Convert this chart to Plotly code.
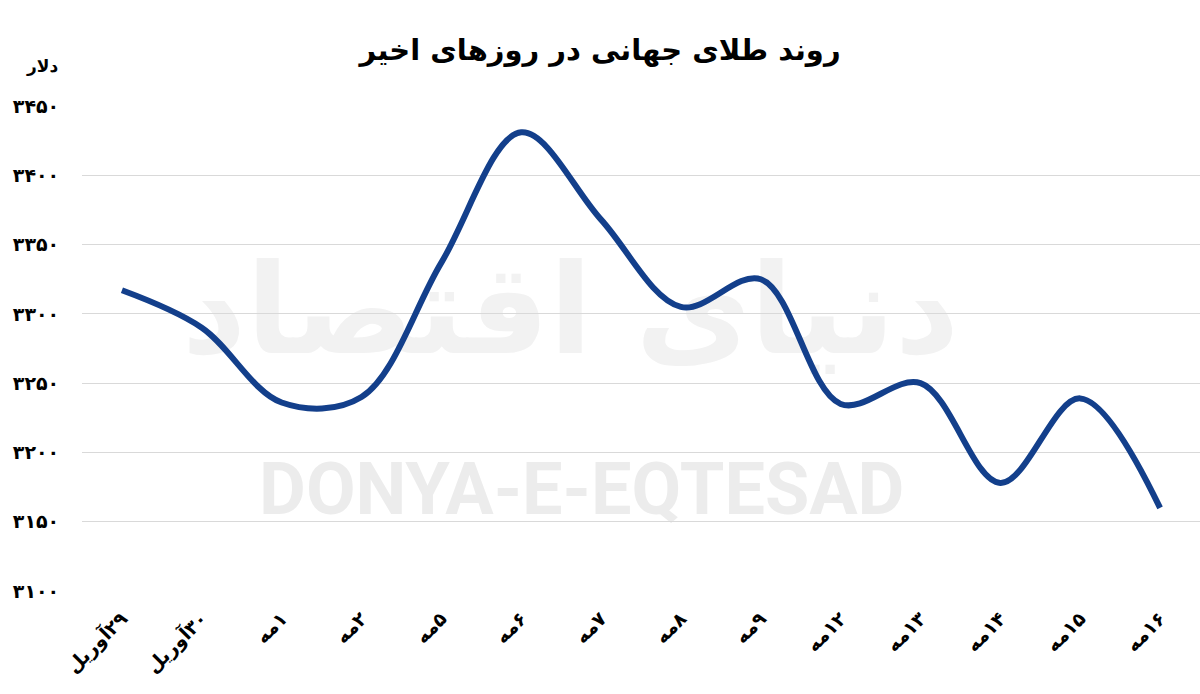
import plotly.graph_objects as go

categories = ["\u200f۲۹آوریل", "\u200f۳۰آوریل", "\u200f۱مه", "\u200f۲مه", "\u200f۵مه", "\u200f۶مه", "\u200f۷مه",
              "\u200f۸مه", "\u200f۹مه", "\u200f۱۲مه", "\u200f۱۳مه", "\u200f۱۴مه", "\u200f۱۵مه", "\u200f۱۶مه"]
gold_price = [3317, 3290, 3236, 3240, 3337, 3431, 3368, 3305, 3325, 3235, 3250, 3178, 3239, 3160]

y_tickvals = [3100, 3150, 3200, 3250, 3300, 3350, 3400, 3450]
y_ticktext = ["۳۱۰۰", "۳۱۵۰", "۳۲۰۰", "۳۲۵۰", "۳۳۰۰", "۳۳۵۰", "۳۴۰۰", "۳۴۵۰"]
grid_vals = [3150, 3200, 3250, 3300, 3350, 3400, 3450]

title_text = "روند طلای جهانی در روزهای اخیر"
unit_text = "دلار"

FONT = "DejaVu Sans"

fig = go.Figure()
fig.add_trace(go.Scatter(
    x=categories, y=gold_price, mode="lines",
    line=dict(color="#133f8b", width=6, shape="spline", smoothing=1.0),
    hoverinfo="x+y", showlegend=False,
))
# invisible trace on overlay axis to carry gridlines
fig.add_trace(go.Scatter(x=categories, y=gold_price, yaxis="y2", mode="lines",
                         line=dict(width=0), hoverinfo="skip", showlegend=False))

fig.update_layout(
    width=1200, height=694,
    margin=dict(l=82, r=0, t=106, b=103),
    paper_bgcolor="white", plot_bgcolor="white",
    title=dict(text=title_text, x=0.5, xanchor="center", y=0.928, yanchor="middle",
               font=dict(family=FONT, size=29, color="black", weight="bold")),
    xaxis=dict(type="category", showgrid=False, zeroline=False, showline=False,
               tickangle=-45, tickfont=dict(family=FONT, size=19, color="black", weight="bold"),
               ticks="outside", ticklen=8, tickcolor="rgba(0,0,0,0)",
               range=[-0.5, 13.5], automargin=False),
    yaxis=dict(range=[3100, 3450], tickvals=y_tickvals, ticktext=y_ticktext,
               showgrid=False, zeroline=False, showline=False,
               ticks="outside", ticklen=18, tickcolor="rgba(0,0,0,0)", automargin=False,
               tickfont=dict(family=FONT, size=19, color="black", weight="bold")),
    yaxis2=dict(overlaying="y", matches="y", range=[3100, 3450], tickvals=grid_vals,
                showticklabels=False, showgrid=True, gridcolor="#d9d9d9", gridwidth=1,
                zeroline=False, showline=False, automargin=False),
    annotations=[
        dict(text=unit_text, xref="paper", yref="paper", x=-0.036, y=1.083,
             showarrow=False, xanchor="center", yanchor="middle",
             font=dict(family=FONT, size=17, color="black", weight="bold")),
    ],
    shapes=[
        dict(type="rect", xref="paper", yref="paper", x0=0.037, x1=0.837, y0=0.35, y1=0.85,
             line=dict(width=0), fillcolor="rgba(0,0,0,0)", layer="below",
             label=dict(text="دنیای اقتصاد", textposition="middle center",
                        font=dict(family=FONT, size=125, color="#f2f2f2", weight="bold"))),
        dict(type="rect", xref="paper", yref="paper", x0=0.047, x1=0.847, y0=0.12, y1=0.318,
             line=dict(width=0), fillcolor="rgba(0,0,0,0)", layer="below",
             label=dict(text="DONYA-E-EQTESAD", textposition="middle center",
                        font=dict(family="Roboto", size=72, color="#ececec", weight="bold"))),
    ],
)

fig.write_html("out.html", config={"displayModeBar": False},
               post_script="document.body.style.margin='0';")
